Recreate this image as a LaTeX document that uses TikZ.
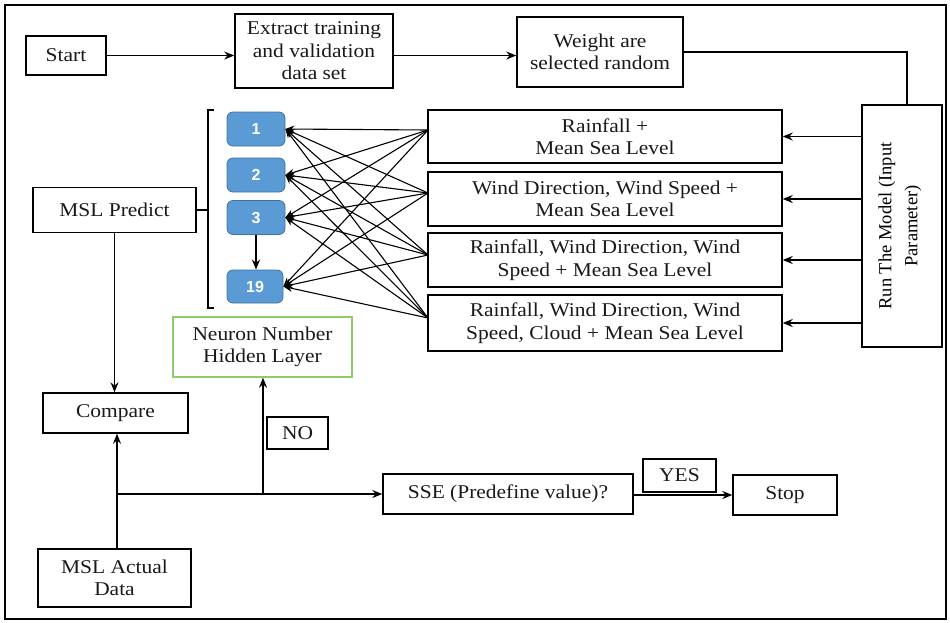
\documentclass[tikz,border=0pt]{standalone}
\usepackage{fontspec}
\setmainfont[FakeStretch=1.1]{Liberation Serif}
\newfontfamily\rotfont{Liberation Serif}
\newfontfamily\neurfont{Liberation Sans}
\usetikzlibrary{arrows.meta}
\definecolor{nblue}{HTML}{5B9BD5}
\definecolor{nborder}{HTML}{41719C}
\definecolor{ngreen}{HTML}{8FCB6A}
\begin{document}
\begin{tikzpicture}[x=1pt,y=-1pt,
  box/.style={draw, line width=1.4pt, inner sep=0pt, align=center, text=black!90, font=\fontsize{19.5}{22.5}\selectfont},
  neur/.style={draw=nborder, fill=nblue, rounded corners=6pt, line width=0.8pt, inner sep=0pt,
     minimum width=58pt, minimum height=34pt, text=white, font=\neurfont\bfseries\fontsize{16}{18}\selectfont},
  arr/.style={line width=1.4pt, -{Stealth[length=10pt,width=8pt]}},
  ln/.style={line width=1.4pt},
  thin arr/.style={line width=1.1pt, -{Stealth[length=9pt,width=7pt]}}]
\useasboundingbox (0,0) rectangle (950,622);
\draw[line width=1.8pt] (5,5) rectangle (946,619);

% top row
\node[box, minimum width=80pt, minimum height=39pt] (start) at (66,55.5) {Start};
\node[box, minimum width=158pt, minimum height=74pt] (extract) at (314,51) {Extract training\\and validation\\data set};
\node[box, minimum width=166pt, minimum height=70pt] (weight) at (600,52) {Weight are\\selected random};

% run box
\node[box, minimum width=80pt, minimum height=242pt] (run) at (902,226) {};
\node[rotate=90, align=center, font=\rotfont\fontsize{18.5}{26}\selectfont] (runtxt) at (900,226) {Run The Model (Input\\Parameter)};

% input boxes
\node[box, minimum width=354pt, minimum height=53pt] (in1) at (605,136.5) {Rainfall +\\Mean Sea Level};
\node[box, minimum width=354pt, minimum height=54pt] (in2) at (605,199) {Wind Direction, Wind Speed +\\Mean Sea Level};
\node[box, minimum width=354pt, minimum height=54pt] (in3) at (605,260) {Rainfall, Wind Direction, Wind\\Speed + Mean Sea Level};
\node[box, minimum width=354pt, minimum height=56pt] (in4) at (605,323) {Rainfall, Wind Direction, Wind\\Speed, Cloud + Mean Sea Level};

% neurons
\node[neur] (n1) at (256,129) {1};
\node[neur] (n2) at (256,175) {2};
\node[neur] (n3) at (256,217.5) {3};
\node[neur, minimum width=56pt, minimum height=33pt] (n19) at (255,286.5) {19};

% left column
\node[box, minimum width=163pt, minimum height=45pt] (predict) at (114.5,210) {MSL Predict};
\node[box, minimum width=145pt, minimum height=40pt] (compare) at (115.5,413) {Compare};
\node[box, minimum width=153pt, minimum height=58pt] (actual) at (114.5,578) {MSL Actual\\Data};
\node[box, draw=ngreen, minimum width=179pt, minimum height=60pt] (hidden) at (262.5,347) {Neuron Number\\Hidden Layer};
\node[box, minimum width=61pt, minimum height=32pt] (no) at (297.5,433) {NO};

% bottom row
\node[box, minimum width=250pt, minimum height=40pt] (sse) at (508,494) {SSE (Predefine value)?};
\node[box, minimum width=73pt, minimum height=33pt] (yes) at (679.5,475.5) {YES};
\node[box, minimum width=104pt, minimum height=40pt] (stop) at (785,495) {Stop};

% coordinates
\coordinate (p1) at (428,130);
\coordinate (p2) at (428,193);
\coordinate (p3) at (428,255);
\coordinate (p4) at (428,318);
\coordinate (j1) at (117,494);
\coordinate (j2) at (263,494);

% connectors top
\draw[arr] (start.east) -- (start.east -| extract.west);
\draw[arr] (extract.east |- start.east) -- (extract.east |- start.east -| weight.west);
\draw[ln] (weight.east) -| ([xshift=5pt]run.north);

% run to inputs
\foreach \i in {in1,in2,in3,in4}{
  \draw[arr] (run.west |- \i.east) -- (\i.east);
}

% inputs to neurons
\foreach \p in {p1,p2,p3,p4}{
  \foreach \n in {n1,n2,n3,n19}{
    \draw[thin arr] (\p) -- (\n.east);
  }
}
\draw[arr] (n3.south) -- (n3.south |- n19.north);

% bracket
\draw[ln] (214,110) -- (208,110) -- (208,308) -- (214,308);
\draw[ln] (predict.east) -- (208,210);

% left flows
\draw[arr] (predict.south) -- (predict.south |- compare.north);
\draw[arr] (actual.north -| j1) -- (compare.south -| j1);
\draw[arr] (j1) -- (j1 -| sse.west);
\draw[arr] (j2) -- (hidden.south -| j2);
\draw[arr] (sse.east |- stop.west) -- (stop.west);
\end{tikzpicture}
\end{document}
